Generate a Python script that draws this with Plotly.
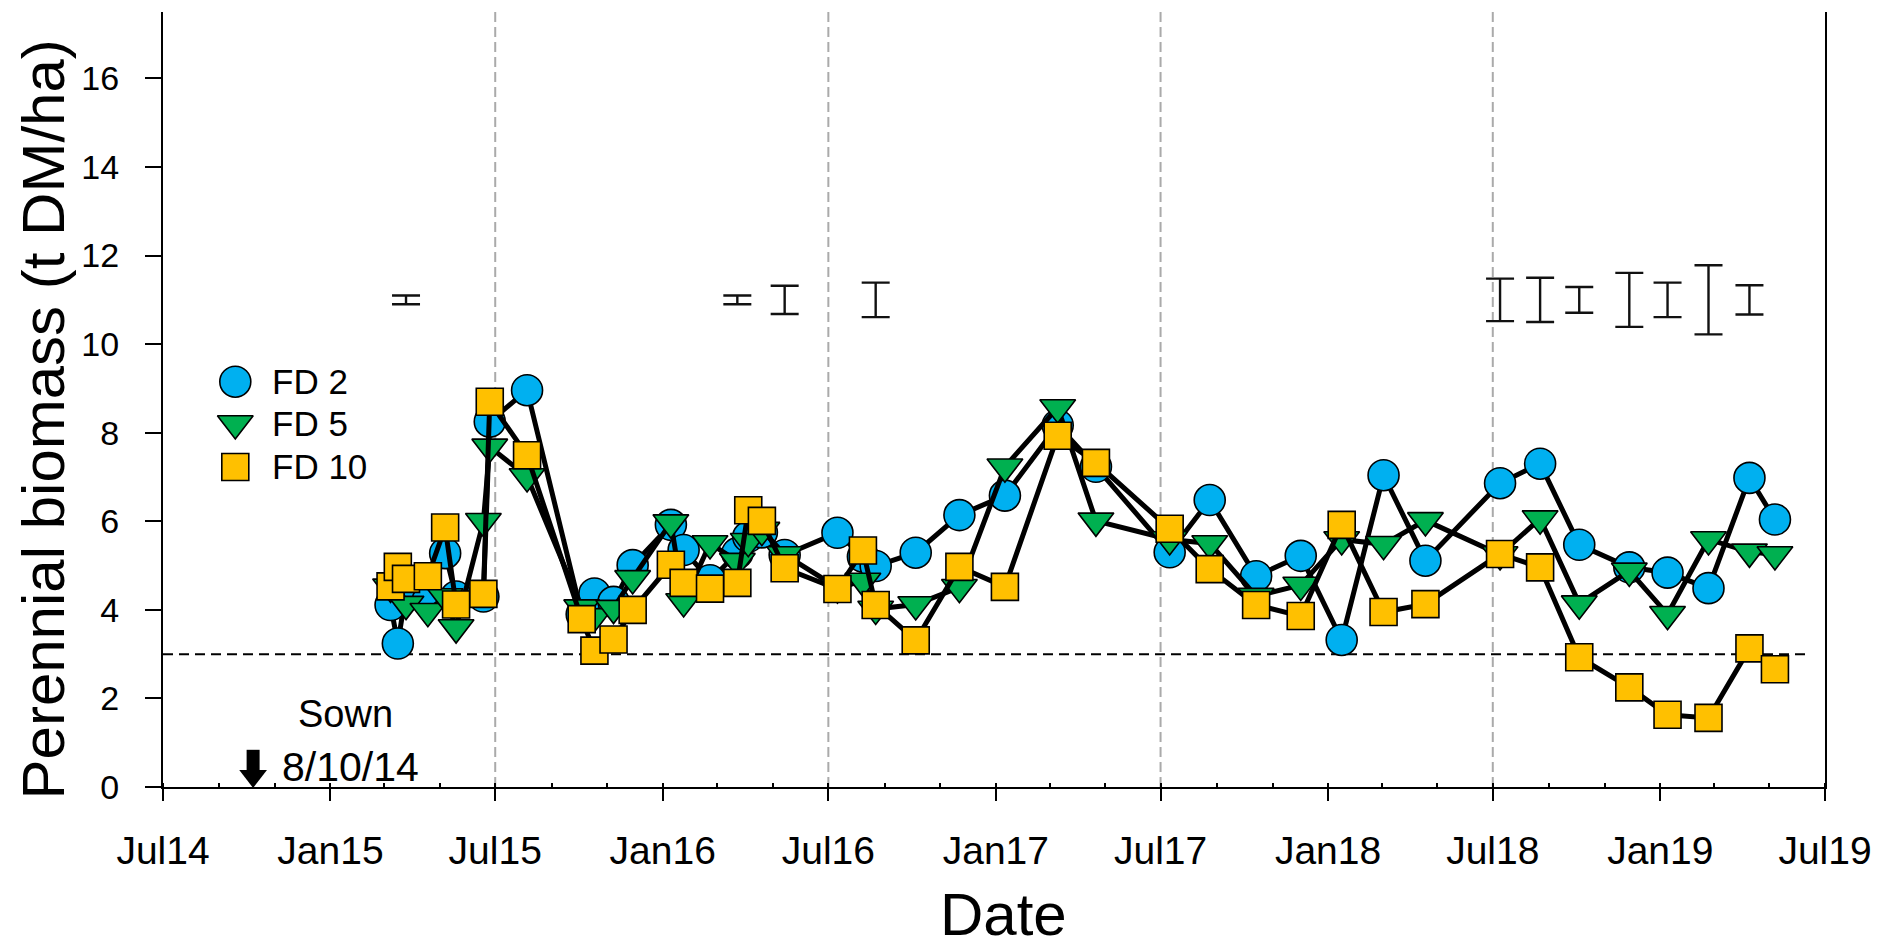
import plotly.graph_objects as go

# ---------------- data ----------------
dates = ["2015-03-08", "2015-03-16", "2015-03-25", "2015-04-18", "2015-05-07", "2015-05-19",
         "2015-06-18", "2015-06-25", "2015-08-05", "2015-10-04", "2015-10-18", "2015-11-08",
         "2015-11-29", "2016-01-10", "2016-01-24", "2016-02-22", "2016-03-23", "2016-04-04",
         "2016-04-19", "2016-05-14", "2016-07-11", "2016-08-08", "2016-08-22", "2016-10-05",
         "2016-11-22", "2017-01-11", "2017-03-10", "2017-04-21", "2017-07-11", "2017-08-24",
         "2017-10-14", "2017-12-02", "2018-01-16", "2018-03-03", "2018-04-18", "2018-07-09",
         "2018-08-22", "2018-10-04", "2018-11-28", "2019-01-09", "2019-02-23", "2019-04-09",
         "2019-05-07"]
fd2 = [4.11, 3.24, 4.40, 4.22, 5.28, 4.30, 4.30, 8.25, 8.96, 3.90, 4.37, 4.18,
       5.01, 5.92, 5.35, 4.67, 5.28, 5.65, 5.75, 5.24, 5.74, 5.20, 4.99, 5.29,
       6.14, 6.58, 8.17, 7.23, 5.30, 6.48, 4.76, 5.22, 3.32, 7.04, 5.11, 6.86,
       7.30, 5.47, 4.96, 4.84, 4.49, 6.98, 6.04]
fd5 = [4.52, 4.60, 4.13, 3.97, 4.30, 3.60, 6.00, 7.68, 7.01, 4.05, 3.85, 4.04,
       4.71, 5.97, 4.19, 5.50, 5.10, 5.55, 5.80, 5.25, 4.50, 4.65, 4.02, 4.12,
       4.51, 7.23, 8.57, 6.01, 5.59, 5.50, 4.31, 4.56, 5.59, 5.48, 6.02, 5.25,
       6.06, 4.14, 4.88, 3.90, 5.59, 5.31, 5.25]
fd10 = [4.53, 4.97, 4.70, 4.76, 5.86, 4.12, 4.36, 8.70, 7.49, 3.79, 3.08, 3.33,
        4.00, 5.02, 4.61, 4.48, 4.61, 6.25, 6.01, 4.94, 4.47, 5.34, 4.11, 3.31,
        4.97, 4.52, 7.93, 7.32, 5.83, 4.92, 4.11, 3.86, 5.92, 3.95, 4.13, 5.26,
        4.96, 2.93, 2.25, 1.63, 1.56, 3.13, 2.66]

err_dates = ["2015-03-25", "2016-03-23", "2016-05-14", "2016-08-22", "2018-07-09",
             "2018-08-22", "2018-10-04", "2018-11-28", "2019-01-09", "2019-02-23",
             "2019-04-09"]
err_half = [0.10, 0.10, 0.32, 0.39, 0.48, 0.50, 0.29, 0.61, 0.39, 0.78, 0.33]
err_level = 11.0

season_lines = ["2015-07-01", "2016-07-01", "2017-07-01", "2018-07-01"]
threshold = 3
threshold_span = ["2014-07-01", "2019-06-15"]
sown_date = "2014-10-08"
sown_shaft = [0.84, 0.34]
sown_head = 0.25

series_names = ["FD 2", "FD 5", "FD 10"]
x_range = ["2014-07-01", "2019-07-01"]
y_range = [0, 17.5]

# ---------------- style ----------------
FONT = "Liberation Sans, Arial, sans-serif"
C_BLUE, C_GREEN, C_GOLD = "#00B0F0", "#00B050", "#FFC000"
line_style = dict(color="black", width=5)
styles = [
    dict(symbol="circle", size=31, color=C_BLUE),
    dict(symbol="triangle-down", size=31, color=C_GREEN),
    dict(symbol="square", size=27, color=C_GOLD),
]

fig = go.Figure()

# horizontal dashed threshold line
fig.add_trace(go.Scatter(x=threshold_span, y=[threshold, threshold], mode="lines",
                         line=dict(color="black", width=2, dash="10px,6px"),
                         hoverinfo="skip", showlegend=False))

for vals, st in zip([fd2, fd5, fd10], styles):
    fig.add_trace(go.Scatter(
        x=dates, y=vals, mode="lines+markers", line=line_style,
        marker=dict(symbol=st["symbol"], size=st["size"], color=st["color"],
                    line=dict(color="black", width=1.6)),
        showlegend=False))

# error bars
fig.add_trace(go.Scatter(
    x=err_dates, y=[err_level] * len(err_dates), mode="markers",
    marker=dict(size=1, color="rgba(0,0,0,0)"),
    error_y=dict(type="data", array=err_half, symmetric=True, color="#111111",
                 thickness=2.4, width=14),
    showlegend=False, hoverinfo="skip"))

# sown arrow
fig.add_trace(go.Scatter(x=[sown_date, sown_date], y=sown_shaft, mode="lines",
                         line=dict(color="black", width=13), showlegend=False,
                         hoverinfo="skip"))
fig.add_trace(go.Scatter(x=[sown_date], y=[sown_head], mode="markers",
                         marker=dict(symbol="triangle-down", size=24, color="black"),
                         showlegend=False, hoverinfo="skip", cliponaxis=False))

# custom legend (overlay axis in fractional units)
leg_x = 0.0435
leg_y = [0.523, 0.469, 0.413]
for name, st, ly in zip(series_names, styles, leg_y):
    fig.add_trace(go.Scatter(
        x=[leg_x], y=[ly], xaxis="x2", yaxis="y2", mode="markers",
        marker=dict(symbol=st["symbol"], size=st["size"], color=st["color"],
                    line=dict(color="black", width=1.6)),
        showlegend=False, hoverinfo="skip"))

shapes = []
for d in season_lines:
    shapes.append(dict(type="line", xref="x", yref="paper", x0=d, x1=d, y0=0, y1=1,
                       line=dict(color="#AAAAAA", width=2, dash="10px,5px"), layer="below"))

annotations = []
for name, ly in zip(series_names, leg_y):
    annotations.append(dict(text=name, xref="paper", yref="paper", x=0.0646, y=ly,
                            xanchor="left", yanchor="middle", showarrow=False,
                            font=dict(family=FONT, size=35, color="black")))
annotations += [
    dict(text="Sown", xref="x", yref="y", x="2015-01-18", y=1.65, showarrow=False,
         xanchor="center", yanchor="middle", font=dict(family=FONT, size=38, color="black")),
    dict(text="8/10/14", xref="x", yref="y", x="2015-01-23", y=0.45, showarrow=False,
         xanchor="center", yanchor="middle", font=dict(family=FONT, size=41, color="black")),
    dict(text="Date", xref="paper", yref="paper", x=0.506, y=-0.2095, showarrow=False,
         xanchor="center", yanchor="bottom", borderpad=0,
         font=dict(family=FONT, size=60, color="black")),
    dict(text="Perennial biomass (t DM/ha)", xref="paper", yref="paper", x=-0.0717, y=0.474,
         textangle=-90, showarrow=False, xanchor="center", yanchor="middle",
         font=dict(family=FONT, size=60, color="black")),
]

fig.update_layout(
    width=1884, height=950,
    margin=dict(l=163, r=57, t=12, b=163, pad=0),
    paper_bgcolor="white", plot_bgcolor="white",
    font=dict(family=FONT, color="black"),
    shapes=shapes, annotations=annotations,
    xaxis=dict(type="date", range=x_range, tickformat="%b%y", dtick="M6",
               tick0="2014-07-01", ticks="outside", ticklen=12, tickwidth=2,
               tickcolor="black", showline=True, linewidth=2, linecolor="black",
               showgrid=False, zeroline=False, tickfont=dict(size=39, family=FONT),
               ticklabelstandoff=16,
               minor=dict(dtick="M2", tick0="2014-07-01", ticks="inside", ticklen=4,
                          tickwidth=1.5, tickcolor="black", showgrid=False)),
    yaxis=dict(range=y_range, dtick=2, tick0=0, ticks="outside", ticklen=16, tickwidth=2,
               tickcolor="black", showline=True, linewidth=2, linecolor="black",
               mirror=True, showgrid=False, zeroline=False,
               tickfont=dict(size=34, family=FONT), ticklabelstandoff=19),
    xaxis2=dict(range=[0, 1], overlaying="x", visible=False, anchor="y2"),
    yaxis2=dict(range=[0, 1], overlaying="y", visible=False, anchor="x2"),
    showlegend=False,
)

fig.write_html("out.html")
